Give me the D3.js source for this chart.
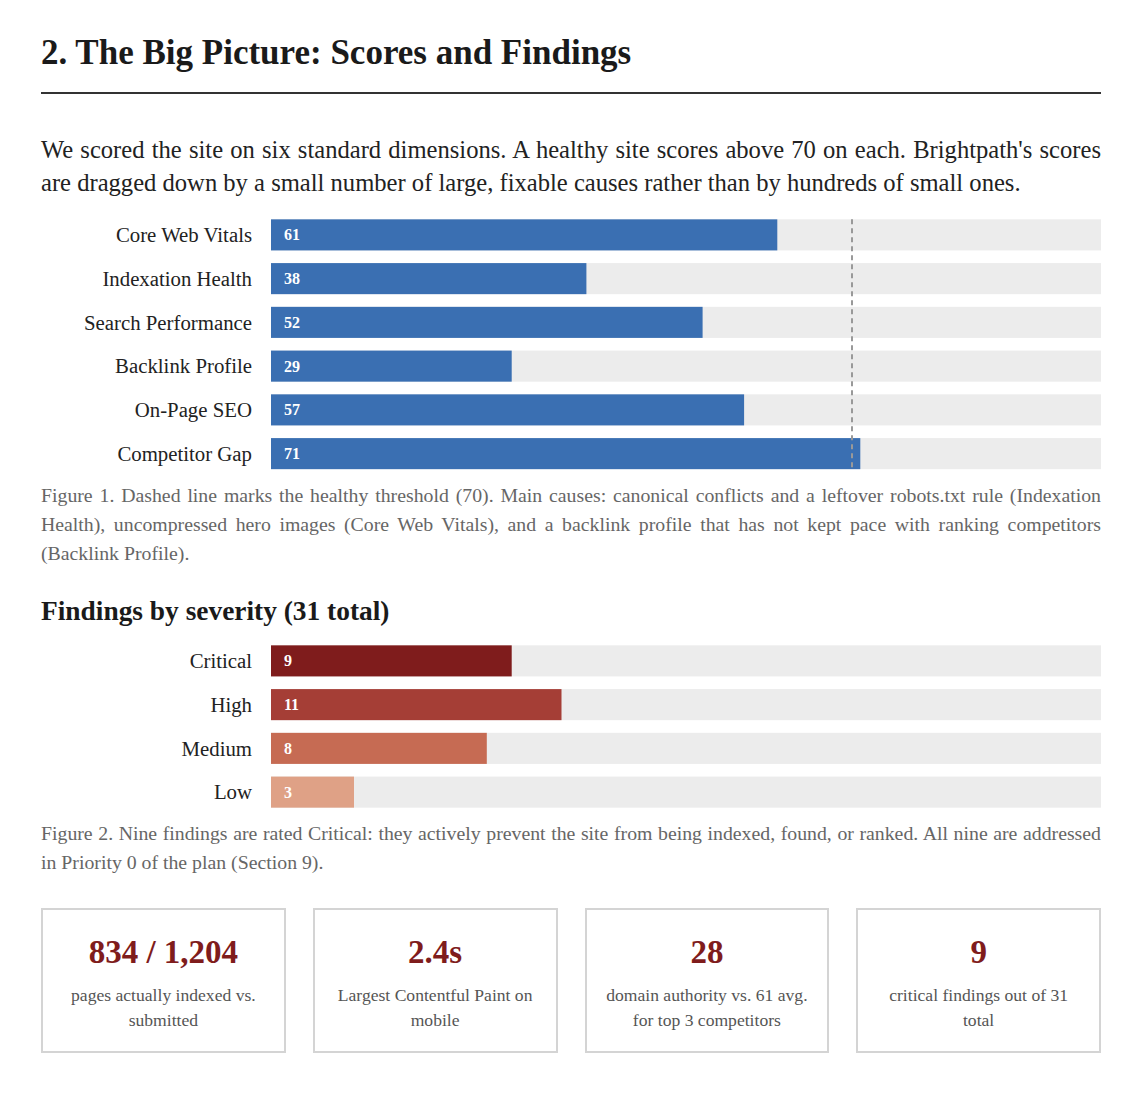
<!DOCTYPE html>
<html>
<head>
<meta charset="utf-8">
<script src="https://cdn.jsdelivr.net/npm/d3@7"></script>
<style>
  body { margin: 0; background: #fff; font-family: "Liberation Serif", "Times New Roman", serif; color: #222; }
  #page { position: relative; width: 1060px; height: 1095px; margin-left: 41px; }
  .blk { position: absolute; left: 0; width: 1060px; }
  h2 { margin: 0; font-size: 35px; line-height: 42px; font-weight: bold; color: #1a1a1a; }
  h3 { margin: 0; font-size: 27.4px; line-height: 32px; font-weight: bold; color: #1a1a1a; }
  .rule { border-top: 2px solid #333; height: 0; }
  .lead { margin: 0; font-size: 24.6px; line-height: 33px; text-align: justify; color: #222; }
  .cap { margin: 0; font-size: 19.8px; line-height: 28.8px; text-align: justify; color: #666; }
  .cards { display: flex; gap: 27px; }
  .card { flex: 1; height: 141px; border: 2px solid #d4d4d4; text-align: center; padding: 0 16px; }
  .card .num { margin-top: 22px; font-size: 33px; line-height: 40px; font-weight: bold; color: #7f1c1c; }
  .card .lbl { margin-top: 10.6px; font-size: 17.6px; line-height: 25px; color: #555; }
</style>
</head>
<body>
<div id="page"></div>
<script>
// scores (0-100)
const scoreNames = ['Core Web Vitals', 'Indexation Health', 'Search Performance', 'Backlink Profile', 'On-Page SEO', 'Competitor Gap']
const scoreValues = [61, 38, 52, 29, 57, 71]
const threshold = 70

// findings by severity
const severityNames = ['Critical', 'High', 'Medium', 'Low']
const severityCounts = [9, 11, 8, 3]
const severityColors = ['#7f1c1c', '#a53e36', '#c66b53', '#dfa186']
const totalFindings = 31

// headline stats
const statValues = ['834 / 1,204', '2.4s', '28', '9']
const statLabels = ['pages actually indexed vs. submitted', 'Largest Contentful Paint on mobile',
  'domain authority vs. 61 avg. for top 3 competitors', 'critical findings out of 31 total']

const page = d3.select('#page')

page.append('h2').attr('class', 'blk').style('top', '32px')
    .text('2. The Big Picture: Scores and Findings')
page.append('div').attr('class', 'blk rule').style('top', '92px')
page.append('p').attr('class', 'blk lead').style('top', '133px')
    .text("We scored the site on six standard dimensions. A healthy site scores above 70 on each. Brightpath's scores are dragged down by a small number of large, fixable causes rather than by hundreds of small ones.")

const W = 1060
const labelRight = 211
const barLeft = 230
const step = 43.75

function barChart (top, names, values, colors, x, labels) {
  const h = names.length * step
  const y = d3.scaleBand().domain(names).range([0, h]).paddingInner(0.29).paddingOuter(0.145)
  const svg = page.append('svg').attr('class', 'blk')
      .style('top', top + 'px')
      .attr('width', W).attr('height', h)

  const row = svg.selectAll('.row')
      .data(names)
    .enter().append('g')
      .attr('class', 'row')
      .attr('transform', d => 'translate(0,' + y(d) + ')')

  row.append('text')
      .attr('x', labelRight)
      .attr('y', y.bandwidth() / 2)
      .attr('dy', '0.35em')
      .attr('text-anchor', 'end')
      .style('font-size', '20.8px')
      .style('fill', '#222')
      .text(d => d)

  row.append('rect')
      .attr('x', barLeft)
      .attr('width', W - barLeft)
      .attr('height', y.bandwidth())
      .style('fill', '#ececec')

  row.append('rect')
      .attr('x', barLeft)
      .attr('width', (d, i) => x(values[i]) - barLeft)
      .attr('height', y.bandwidth())
      .style('fill', (d, i) => colors[i])

  row.append('text')
      .attr('x', barLeft + 13)
      .attr('y', y.bandwidth() / 2)
      .attr('dy', '0.35em')
      .style('font-size', '16px')
      .style('font-weight', 'bold')
      .style('fill', '#fff')
      .text((d, i) => labels[i])

  return { svg, y, h }
}

const xScore = d3.scaleLinear().domain([0, 100]).range([barLeft, W])
const c1 = barChart(212.6, scoreNames, scoreValues, scoreNames.map(() => '#3a6fb2'), xScore, scoreValues)

c1.svg.append('line')
    .attr('x1', xScore(threshold)).attr('x2', xScore(threshold))
    .attr('y1', c1.y(scoreNames[0]))
    .attr('y2', c1.y(scoreNames[scoreNames.length - 1]) + c1.y.bandwidth())
    .style('stroke', '#999')
    .style('stroke-width', 2)
    .style('stroke-dasharray', '5,4')

page.append('p').attr('class', 'blk cap').style('top', '481px')
    .text('Figure 1. Dashed line marks the healthy threshold (70). Main causes: canonical conflicts and a leftover robots.txt rule (Indexation Health), uncompressed hero images (Core Web Vitals), and a backlink profile that has not kept pace with ranking competitors (Backlink Profile).')

page.append('h3').attr('class', 'blk').style('top', '595px')
    .text('Findings by severity (' + totalFindings + ' total)')

// bar length is the share of all findings, in whole percent
const xShare = d3.scaleLinear().domain([0, 100]).range([barLeft, W])
const sharePct = severityCounts.map(v => Math.round(v / totalFindings * 100))
barChart(638.7, severityNames, sharePct, severityColors, xShare, severityCounts)

page.append('p').attr('class', 'blk cap').style('top', '819px')
    .text('Figure 2. Nine findings are rated Critical: they actively prevent the site from being indexed, found, or ranked. All nine are addressed in Priority 0 of the plan (Section 9).')

const cards = page.append('div').attr('class', 'blk cards').style('top', '908px')
    .selectAll('.card')
    .data(statValues)
  .enter().append('div')
    .attr('class', 'card')
cards.append('div').attr('class', 'num').text(d => d)
cards.append('div').attr('class', 'lbl').text((d, i) => statLabels[i])
</script>
</body>
</html>
